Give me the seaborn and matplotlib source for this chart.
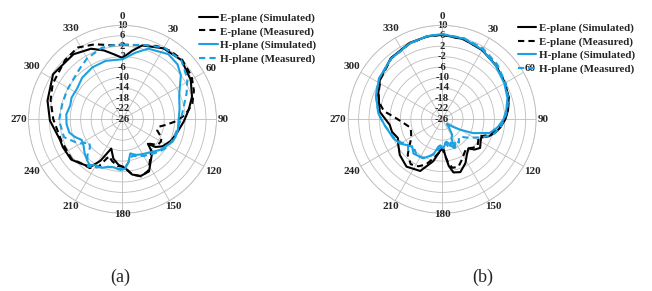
import numpy as np
import matplotlib
matplotlib.use("Agg")
import matplotlib.pyplot as plt
import seaborn as sns

# ---- data (angle in degrees, gain in dB) ----
# panel (a)
a_e_sim_ang = [0, 8, 15, 30, 45, 60, 72, 82, 92, 104, 114, 124, 130, 134, 138, 145, 153, 162, 170, 177,
               185, 193, 201, 208, 214, 224, 232, 245, 252, 269, 284, 303, 323, 336, 345, 353, 360]
a_e_sim_db = [-2.5, 0.5, 3.3, 5.4, 6.0, 4.2, 2.0, -0.4, -2.5, -4.5, -5.7, -7.5, -9.5, -12.5, -9.0, -7.0, -3.6, -3.2, -4.5, -7.3,
              -8.5, -10.5, -14.0, -8.0, -4.0, -2.6, -1.0, -0.8, -0.8, 1.8, 3.6, 5.7, 5.2, 3.6, 1.3, -1.0, -2.5]

a_e_meas_ang = [0, 12, 25, 35, 45, 58, 68, 78, 86, 92, 97, 102, 108, 115, 120, 126, 132, 138, 145, 153, 162, 170,
                178, 186, 194, 200, 207, 214, 224, 232, 250, 270, 285, 297, 316, 328, 340, 351, 360]
a_e_meas_db = [2.6, 3.0, 5.0, 6.0, 6.3, 5.2, 3.5, 1.3, -2.0, -5.5, -9.0, -12.0, -12.0, -9.5, -9.0, -9.3, -12.0, -9.5, -7.5, -4.0, -3.0, -4.5,
               -7.8, -8.0, -9.5, -11.0, -5.5, -3.5, -2.8, -1.3, -1.2, 0.5, 2.5, 4.0, 5.6, 6.4, 4.6, 2.7, 2.6]

a_h_sim_ang = [0, 11, 20, 35, 45, 53, 67, 80, 90, 101, 108, 114, 120, 129, 137, 144, 152, 158, 163, 167, 172, 177,
               182, 190, 197, 203, 210, 216, 221, 228, 236, 243, 250, 256, 265, 275, 285, 293, 304, 316, 330, 344, 360]
a_h_sim_db = [-3.0, 0.0, 2.8, 4.5, 3.8, 2.0, -2.4, -3.8, -4.5, -4.4, -4.6, -5.0, -6.2, -7.4, -9.0, -10.0, -10.8, -11.3, -12.0, -12.6, -9.5, -7.0,
              -6.6, -7.3, -7.0, -5.8, -5.6, -4.5, -5.3, -6.5, -8.0, -8.5, -6.5, -5.0, -4.5, -4.4, -5.3, -4.8, -5.0, -3.8, -3.0, -2.7, -3.0]

a_h_meas_ang = [0, 15, 30, 45, 58, 68, 77, 90, 104, 114, 122, 130, 140, 150, 158, 165, 170, 177, 184, 192, 200,
                208, 216, 224, 229, 235, 240, 244, 253, 269, 284, 298, 312, 322, 330, 344, 352, 360]
a_h_meas_db = [2.5, 3.5, 5.8, 5.9, 3.3, 0.5, -1.8, -3.6, -4.9, -5.3, -5.9, -7.0, -8.6, -9.8, -10.8, -11.5, -10.0, -7.5, -6.8, -7.3, -6.5,
               -5.2, -3.6, -6.6, -9.5, -10.5, -7.5, -6.0, -2.6, -1.7, -2.2, -2.0, -1.5, -0.3, 1.0, 2.5, 2.6, 2.5]

# panel (b)
b_e_sim_ang = [0, 15, 30, 45, 60, 72, 82, 90, 98, 104, 110, 115, 120, 127, 133, 138, 145, 152, 161, 168, 172, 175,
               178, 184, 192, 203, 217, 230, 240, 247, 256, 264, 277, 292, 303, 320, 337, 350, 360]
b_e_sim_db = [6.4, 5.8, 4.6, 3.2, 1.8, 0.8, -0.5, -1.8, -3.5, -5.0, -7.0, -9.5, -9.0, -7.8, -9.0, -11.0, -9.5, -7.0, -4.6, -5.2, -8.0, -12.0,
              -15.0, -13.8, -9.6, -4.5, -3.3, -4.8, -6.6, -7.6, -6.2, -5.8, -1.9, 0.4, 2.4, 4.6, 5.8, 6.3, 6.4]

b_e_meas_ang = [0, 15, 30, 45, 60, 72, 82, 90, 98, 104, 110, 115, 120, 127, 133, 140, 147, 153, 161, 168, 172, 176,
                180, 186, 193, 200, 207, 215, 224, 230, 238, 246, 255, 265, 272, 278, 285, 292, 303, 320, 337, 350, 360]
b_e_meas_db = [6.4, 5.7, 4.8, 3.2, 1.8, 0.8, -0.6, -2.0, -4.0, -5.8, -8.0, -10.5, -10.0, -9.0, -10.0, -11.5, -10.5, -9.0, -6.8, -7.0, -9.0, -12.5,
               -15.0, -13.0, -10.5, -7.5, -5.8, -5.0, -7.0, -9.5, -12.0, -13.0, -13.5, -11.0, -8.0, -3.5, -1.0, 0.3, 2.2, 4.4, 5.6, 6.3, 6.4]

b_h_sim_ang = [0, 15, 30, 45, 60, 72, 82, 90, 98, 106, 114, 120, 125, 130, 135, 140, 147, 154, 157, 162, 169, 178,
               184, 188, 194, 206, 220, 228, 234, 240, 249, 264, 275, 290, 303, 320, 337, 350, 360]
b_h_sim_db = [6.6, 6.0, 4.8, 3.0, 1.5, 0.3, -1.2, -2.5, -4.5, -7.0, -13.0, -18.0, -21.0, -23.0, -23.5, -22.0, -19.0, -17.9, -14.0, -15.5, -17.3, -14.9,
              -16.0, -15.4, -12.0, -9.4, -8.9, -10.5, -9.2, -7.4, -5.9, -3.9, -1.5, 1.0, 2.8, 4.4, 5.6, 6.4, 6.6]

b_h_meas_ang = [0, 15, 30, 45, 60, 72, 82, 90, 98, 106, 114, 120, 126, 132, 138, 144, 150, 155, 160, 166, 172, 178,
                184, 190, 197, 206, 215, 222, 228, 234, 240, 249, 264, 275, 290, 303, 320, 337, 350, 360]
b_h_meas_db = [6.6, 6.2, 5.3, 3.8, 2.0, 0.6, -0.8, -2.2, -3.5, -5.5, -9.0, -12.0, -14.0, -16.0, -16.5, -15.0, -16.5, -14.0, -16.5, -14.5, -17.0, -15.5,
               -15.0, -13.5, -11.5, -9.5, -9.0, -10.3, -8.5, -9.8, -8.0, -6.3, -3.8, -1.5, 1.0, 2.8, 4.4, 5.6, 6.4, 6.6]

labels = ["E-plane (Simulated)", "E-plane (Measured)", "H-plane (Simulated)", "H-plane (Measured)"]
r_ticks = list(range(-26, 11, 4))
theta_ticks = list(range(0, 360, 30))

BLACK = "#000000"
BLUE = "#1ba1e2"

sns.set_style("white")
plt.rcParams["font.family"] = ["Liberation Serif", "DejaVu Serif"]

fig = plt.figure(figsize=(6.52, 2.91), dpi=100)
PX2PT = 72 / fig.dpi


def draw_panel(ax, curves):
    ax.set_theta_zero_location("N")
    ax.set_theta_direction(-1)
    styles = [(BLACK, "-"), (BLACK, "--"), (BLUE, "-"), (BLUE, "--")]
    for (ang, db), (col, ls), lab in zip(curves, styles, labels):
        sns.lineplot(x=np.deg2rad(ang), y=db, ax=ax, sort=False, color=col,
                     linestyle=ls, lw=1.5, label=lab, legend=False)
        if ls == "--":
            ax.lines[-1].set_dashes((3, 2))
    ax.set_rlim(-26, 10)
    ax.set_rticks(r_ticks)
    ax.set_yticklabels([])
    ax.set_xticks(np.deg2rad(theta_ticks))
    ax.set_xticklabels([])
    ax.tick_params(length=0)
    ax.grid(True, color="#bdbdbd", lw=0.6)
    ax.spines["polar"].set_color("#bdbdbd")
    ax.spines["polar"].set_linewidth(0.6)
    ax.set_xlabel("")
    ax.set_ylabel("")
    # angle labels just outside the rim; top/bottom ones sit a bit higher
    for t in theta_ticks:
        s = str(t)
        th = np.deg2rad(t)
        half = abs(np.sin(th)) * 2.8 * len(s) + abs(np.cos(th)) * 3.5
        d = 1.5 + half
        lift = 4.0 * abs(np.cos(th)) ** 5
        ax.annotate(s, xy=(th, r_ticks[-1]),
                    xytext=(np.sin(th) * d * PX2PT, (np.cos(th) * d + lift) * PX2PT),
                    textcoords="offset points", ha="center", va="center",
                    fontsize=8, fontweight="bold", annotation_clip=False)
    for r in r_ticks:
        ax.text(0, r, str(r), ha="center", va="center", fontsize=7.6,
                fontweight="bold", zorder=1)


ax_a = fig.add_axes([0.0437, 0.267, 0.2883, 0.646], projection="polar")
draw_panel(ax_a, [(a_e_sim_ang, a_e_sim_db), (a_e_meas_ang, a_e_meas_db),
                  (a_h_sim_ang, a_h_sim_db), (a_h_meas_ang, a_h_meas_db)])

ax_b = fig.add_axes([0.534, 0.267, 0.2883, 0.646], projection="polar")
draw_panel(ax_b, [(b_e_sim_ang, b_e_sim_db), (b_e_meas_ang, b_e_meas_db),
                  (b_h_sim_ang, b_h_sim_db), (b_h_meas_ang, b_h_meas_db)])

leg_props = dict(loc="upper left", frameon=False, borderpad=0, borderaxespad=0,
                 handlelength=1.7, handletextpad=0.2, labelspacing=0.33,
                 prop={"family": "Liberation Serif", "weight": "bold", "size": 7.9})
h, l = ax_a.get_legend_handles_labels()
fig.legend(h, l, bbox_to_anchor=(0.305, 0.955), **leg_props)
h, l = ax_b.get_legend_handles_labels()
fig.legend(h, l, bbox_to_anchor=(0.794, 0.92), **leg_props)

fig.text(120 / 652, 1 - 277 / 291, "(a)", ha="center", va="center", fontsize=13)
fig.text(483 / 652, 1 - 277 / 291, "(b)", ha="center", va="center", fontsize=13)

fig.savefig("out.png", dpi=100)
